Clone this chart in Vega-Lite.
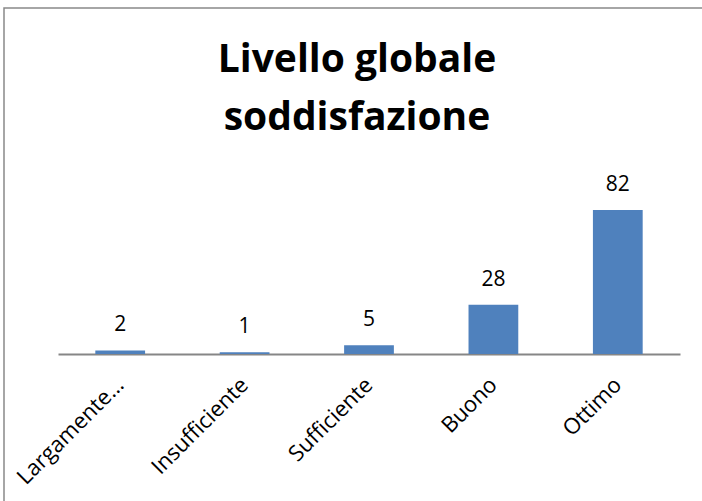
{
  "$schema": "https://vega.github.io/schema/vega-lite/v6.json",
  "autosize": "none",
  "width": 710,
  "height": 505,
  "padding": {"left": 4, "top": 8, "right": 0, "bottom": 0},
  "background": "white",
  "title": {
    "text": ["Livello globale", "soddisfazione"],
    "font": "Open Sans",
    "fontSize": 39,
    "fontWeight": "bold",
    "color": "black",
    "anchor": "middle",
    "dx": -2,
    "frame": "group",
    "baseline": "alphabetic",
    "lineHeight": 58,
    "offset": -161
  },
  "data": {
    "values": [
      {"categoria": "Largamente insoddisfacente", "valore": 2},
      {"categoria": "Insufficiente", "valore": 1},
      {"categoria": "Sufficiente", "valore": 5},
      {"categoria": "Buono", "valore": 28},
      {"categoria": "Ottimo", "valore": 82}
    ]
  },
  "config": {"view": {"stroke": "#898989", "strokeWidth": 1.5}},
  "encoding": {
    "x": {
      "field": "categoria",
      "type": "nominal",
      "sort": null,
      "scale": {"range": [54, 676], "paddingInner": 0.6, "paddingOuter": 0.3},
      "axis": {
        "title": null,
        "orient": "bottom",
        "offset": -159,
        "domainColor": "#868686",
        "domainWidth": 2,
        "ticks": false,
        "labelAngle": -45,
        "labelAlign": "right",
        "labelBaseline": "middle",
        "labelFont": "Open Sans",
        "labelFontSize": 22,
        "labelColor": "black",
        "labelPadding": 27,
        "labelLimit": 300,
        "labelExpr": "length(datum.label) > 13 ? truncate(datum.label, 11) : datum.label"
      }
    },
    "y": {
      "field": "valore",
      "type": "quantitative",
      "scale": {"domain": [0, 82], "range": [346, 202], "nice": false, "zero": true},
      "axis": null
    }
  },
  "layer": [
    {"mark": {"type": "bar", "color": "#4F81BD"}},
    {
      "mark": {"type": "text", "font": "Open Sans", "fontSize": 21, "baseline": "alphabetic", "dy": -19, "color": "black"},
      "encoding": {"text": {"field": "valore", "type": "quantitative"}}
    }
  ]
}
